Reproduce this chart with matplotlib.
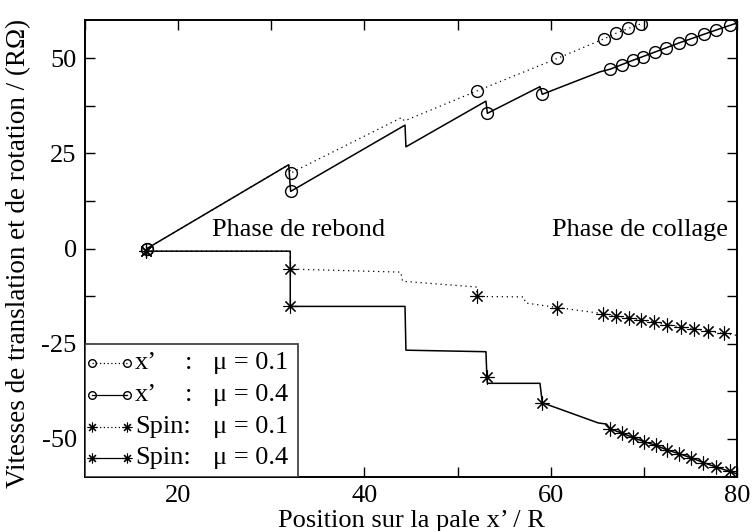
import matplotlib
matplotlib.use("Agg")
import matplotlib.pyplot as plt
from matplotlib.patches import Rectangle
from matplotlib.ticker import MultipleLocator

plt.rcParams['font.family'] = ['Liberation Serif', 'DejaVu Serif']
plt.rcParams['font.size'] = 19
plt.rcParams['axes.unicode_minus'] = False

# ---- donnees ----
# vitesse de translation x', mu = 0.1 (pointilles)
tx_01 = [16.66, 31.87, 32.08, 44.0, 44.3, 52.1, 60.7, 65.76, 67.0, 68.35, 69.7]
ty_01 = [0.0, 22.0, 19.8, 34.4, 33.5, 41.4, 49.9, 55.1, 56.5, 57.8, 59.0]
tm_01 = [0, 2, 5, 6, 7, 8, 9, 10]

# vitesse de translation x', mu = 0.4 (trait plein)
tx_04 = [16.66, 31.87, 32.08, 44.36, 44.46, 53.05, 53.2, 58.85, 59.1, 65.3,
         66.4, 67.65, 68.8, 69.9, 71.2, 72.4, 73.8, 75.1, 76.5, 77.8, 79.25, 80.0]
ty_04 = [0.0, 22.0, 15.0, 32.4, 26.7, 38.7, 35.5, 42.5, 40.5, 46.4,
         47.1, 48.3, 49.4, 50.4, 51.6, 52.7, 54.0, 55.1, 56.3, 57.4, 58.6, 59.2]
tm_04 = [0, 2, 6, 8] + list(range(10, 21))

# spin, mu = 0.1 (pointilles)
sx_01 = [16.55, 32.04, 32.04, 43.9, 44.1, 52.0, 52.1, 57.1, 57.3, 60.7, 65.3,
         65.6, 67.0, 68.4, 69.7, 71.1, 72.5, 74.0, 75.4, 76.9, 78.6, 80.0]
sy_01 = [-0.7, -0.7, -5.4, -6.2, -8.6, -10.1, -12.6, -12.7, -14.3, -15.5, -17.0,
         -17.1, -17.7, -18.2, -18.7, -19.4, -20.0, -20.6, -21.1, -21.7, -22.3, -22.8]
sm_01 = [0, 2, 6, 9] + list(range(11, 21))

# spin, mu = 0.4 (trait plein)
sx_04 = [16.55, 32.04, 32.04, 44.36, 44.46, 53.05, 53.15, 53.2, 58.85, 59.1, 65.1, 66.0,
         66.4, 67.7, 68.8, 70.0, 71.3, 72.5, 73.8, 75.1, 76.4, 77.75, 79.2, 80.0]
sy_04 = [-0.7, -0.7, -15.2, -15.2, -26.7, -27.1, -33.7, -35.4, -35.4, -40.5, -45.8, -46.1,
         -47.4, -48.5, -49.6, -50.7, -51.7, -52.9, -53.9, -55.0, -56.2, -57.4, -58.5, -59.2]
sm_04 = [0, 2, 6, 9] + list(range(12, 23))

legend_rows = [("x’", ":", "μ = 0.1"), ("x’", ":", "μ = 0.4"),
               ("Spin:", "", "μ = 0.1"), ("Spin:", "", "μ = 0.4")]

STAR = (8, 2, 0)
circ = dict(marker='o', ms=8.5, mfc='none', mec='black', mew=1.0)
star = dict(marker=STAR, ms=10, mec='black', mew=0.8)

fig = plt.figure(figsize=(7.52, 5.31), dpi=100)
ax = fig.add_axes([0.113, 0.1017, 0.867, 0.8606])

ax.plot(tx_01, ty_01, color='black', lw=0.9, ls=(0, (1, 3)), markevery=tm_01, **circ)
ax.plot(tx_04, ty_04, color='black', lw=1.1, ls='-', markevery=tm_04, **circ)
ax.plot(sx_01, sy_01, color='black', lw=0.9, ls=(0, (1, 3)), markevery=sm_01, **star)
ax.plot(sx_04, sy_04, color='black', lw=1.1, ls='-', markevery=sm_04, **star)

ax.set_xlim(10, 80)
ax.set_ylim(-60, 60)
ax.xaxis.set_major_locator(MultipleLocator(20))
ax.xaxis.set_minor_locator(MultipleLocator(10))
ax.yaxis.set_major_locator(MultipleLocator(25))
ax.yaxis.set_minor_locator(MultipleLocator(12.5))
ax.tick_params(which='both', direction='in', top=True, right=True, length=7.5, width=1.0)
ax.tick_params(which='major', pad=6)
for s in ax.spines.values():
    s.set_linewidth(1.4)

ax.set_xlabel("Position sur la pale x’ / R", labelpad=2)
ax.set_ylabel("Vitesses de translation et de rotation / (RΩ)", fontsize=19.5)
ax.yaxis.set_label_coords(-0.083, 0.49)

ax.text(23.6, 3.4, "Phase de rebond", va='baseline', ha='left')
ax.text(60.1, 3.4, "Phase de collage", va='baseline', ha='left')

# legende faite a la main (colonnes alignees)
ax.add_patch(Rectangle((0, 0), 0.327, 0.291, transform=ax.transAxes,
                       facecolor='white', edgecolor='#444444', lw=1.3, zorder=5))
row_y = [0.249, 0.179, 0.110, 0.041]
row_ls = [(0, (1, 2)), '-', (0, (1, 2)), '-']
row_mk = [circ, circ, star, star]
for (name, colon, mu), yy, ls, mk in zip(legend_rows, row_y, row_ls, row_mk):
    m = dict(mk)
    m['ms'] = 5.5 if mk is circ else 7
    ax.plot([0.0107, 0.0644], [yy, yy], transform=ax.transAxes, color='black',
            lw=0.9, ls=ls, zorder=6, clip_on=False, **m)
    ax.text(0.0767, yy, name, transform=ax.transAxes, va='center', ha='left', zorder=6)
    if colon:
        ax.text(0.159, yy, colon, transform=ax.transAxes, va='center', ha='center', zorder=6)
    ax.text(0.196, yy, mu, transform=ax.transAxes, va='center', ha='left', zorder=6)

fig.savefig("out.png", dpi=100)
